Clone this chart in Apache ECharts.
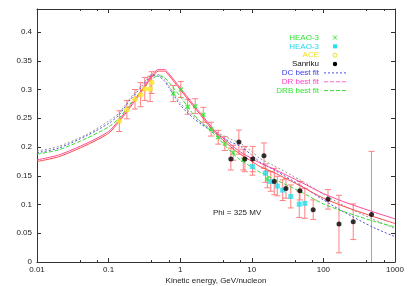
<!DOCTYPE html>
<html>
<head>
<meta charset="utf-8">
<script src="https://cdn.jsdelivr.net/npm/echarts@6/dist/echarts.min.js"></script>
<style>html,body{margin:0;padding:0;background:#fff}#c{width:409px;height:286px}</style>
</head>
<body>
<div id="c"></div>
<script>
// ---------- data ----------
const fitEnergy = [0.01,0.02,0.05,0.1,0.14,0.2,0.3,0.4,0.5,0.6,0.7,1,1.5,2,3,5,7,10,13,20,50,100,200,500,1000];
const fitGrey  = [0.193,0.201,0.222,0.245,0.259,0.285,0.310,0.326,0.326,0.318,0.306,0.277,0.255,0.242,0.228,0.214,0.206,0.192,0.180,0.168,0.141,0.118,0.097,0.074,0.058];
const fitDC    = [0.190,0.198,0.220,0.241,0.256,0.282,0.307,0.324,0.323,0.315,0.303,0.273,0.251,0.239,0.225,0.209,0.201,0.186,0.174,0.161,0.132,0.108,0.086,0.060,0.044];
const fitDRB   = [0.1876,0.195,0.2155,0.235,0.250,0.275,0.300,0.318,0.324,0.321,0.312,0.288,0.258,0.242,0.222,0.193,0.177,0.165,0.156,0.145,0.121,0.101,0.087,0.071,0.061];
const fitDR    = [0.1777,0.186,0.2068,0.227,0.247,0.272,0.302,0.325,0.335,0.335,0.327,0.303,0.275,0.256,0.229,0.205,0.191,0.180,0.172,0.162,0.138,0.119,0.104,0.087,0.075];
const fitRed   = [0.1748,0.183,0.2038,0.224,0.244,0.269,0.299,0.322,0.332,0.332,0.324,0.300,0.272,0.253,0.226,0.201,0.187,0.175,0.166,0.156,0.131,0.111,0.096,0.079,0.067];

const heaoAE   = [0.80,1.02,1.27,1.62,2.1,2.7,3.4,4.2,5.5,7.6,16.5];
const heaoAV   = [0.293,0.300,0.270,0.271,0.256,0.231,0.217,0.206,0.190,0.178,0.144];
const heaoAErr = [0.014,0.014,0.013,0.013,0.013,0.012,0.012,0.012,0.013,0.018,0.015];

const heaoBE   = [10.2,15.5,18.4,22.7,27,35,46,55];
const heaoBV   = [0.166,0.1545,0.140,0.132,0.125,0.114,0.1005,0.102];
const heaoBErr = [0.015,0.016,0.017,0.017,0.018,0.020,0.023,0.026];

const aceE     = [0.141,0.18,0.234,0.28,0.32,0.38,0.40];
const aceV     = [0.245,0.265,0.283,0.291,0.301,0.301,0.312];
const aceErr   = [0.018,0.016,0.017,0.021,0.020,0.022,0.019];

const sanE     = [5.1,6.6,8.0,10.3,14.8,20.6,30,47,72,116,165,261,470];
const sanV     = [0.179,0.2085,0.179,0.179,0.185,0.140,0.128,0.124,0.091,0.109,0.066,0.070,0.0824];
const sanErr   = [0.019,0.021,0.022,0.022,0.022,0.023,0.017,0.016,0.017,0.017,0.050,0.031,0.110];

const xTickLabels = ['0.01','0.1','1','10','100','1000'];
const yTickLabels = ['0','0.05','0.1','0.15','0.2','0.25','0.3','0.35','0.4'];

const legendNames  = ['HEAO-3','HEAO-3','ACE','Sanriku','DC best fit','DR best fit','DRB best fit'];
const legendColors = ['#2ee82e','#22d8f0','#f0e020','#111111','#3a3af0','#ff3fc8','#2ee82e'];

// ---------- helpers ----------
const zip = (a,b) => a.map((v,i)=>[v,b[i]]);
const zip3 = (a,b,c) => a.map((v,i)=>[v,b[i],c[i]]);
const FONT = 'Liberation Sans, Arial, sans-serif';
const ERR_COLOR = '#ff8080';

function errRender(params, api){
  const x = api.value(0), y = api.value(1), e = api.value(2);
  const lowV = y - e;
  const top = api.coord([x, y + e]);
  const bot = api.coord([x, Math.max(0, lowV)]);
  const cap = 3;
  const st = {stroke: ERR_COLOR, lineWidth: 1};
  const ch = [
    {type:'line', shape:{x1:top[0], y1:top[1], x2:bot[0], y2:bot[1]}, style:st},
    {type:'line', shape:{x1:top[0]-cap, y1:top[1], x2:top[0]+cap, y2:top[1]}, style:st}
  ];
  if (lowV > 0) ch.push({type:'line', shape:{x1:bot[0]-cap, y1:bot[1], x2:bot[0]+cap, y2:bot[1]}, style:st});
  return {type:'group', children: ch};
}
function errSeries(E,V,Er){
  return {type:'custom', renderItem: errRender, data: zip3(E,V,Er), z:1, silent:true,
          encode:{x:0,y:1}, clip:true};
}
function lineSeries(name, data, color, type, w){
  return {type:'line', name, data: zip(fitEnergy, data), symbol:'none', showSymbol:false,
          smooth:0.25, z:3,
          lineStyle:{color, width:w||1, type}, itemStyle:{color}};
}

// legend built from graphic elements (text right-aligned, sample to the right)
const LEG_TX = 319, LEG_MX = 335, LEG_Y0 = 37.5, LEG_DY = 8.85;
const legendGraphics = [];
function legY(i){ return LEG_Y0 + i*LEG_DY; }
legendNames.forEach((n,i)=>{
  legendGraphics.push({type:'text', x:LEG_TX, y:legY(i),
    style:{text:n, align:'right', verticalAlign:'middle', fontSize:8, fontFamily:FONT, fill:legendColors[i]}});
});
legendGraphics.push(
  {type:'line', shape:{x1:LEG_MX-2, y1:legY(0)-2, x2:LEG_MX+2, y2:legY(0)+2}, style:{stroke:'#2ee82e', lineWidth:1}},
  {type:'line', shape:{x1:LEG_MX-2, y1:legY(0)+2, x2:LEG_MX+2, y2:legY(0)-2}, style:{stroke:'#2ee82e', lineWidth:1}},
  {type:'rect', shape:{x:LEG_MX-2, y:legY(1)-2, width:4, height:4}, style:{fill:'#22e0f0'}},
  {type:'circle', shape:{cx:LEG_MX, cy:legY(2), r:2}, style:{fill:'none', stroke:'#f0e020', lineWidth:1}},
  {type:'circle', shape:{cx:LEG_MX, cy:legY(3), r:2.2}, style:{fill:'#000'}},
  {type:'line', shape:{x1:324, y1:legY(4), x2:346, y2:legY(4)}, style:{stroke:'#5050dd', lineWidth:1, lineDash:[2,2]}},
  {type:'line', shape:{x1:324, y1:legY(5), x2:346, y2:legY(5)}, style:{stroke:'#ff66cc', lineWidth:1, lineDash:[4,2]}},
  {type:'line', shape:{x1:324, y1:legY(6), x2:346, y2:legY(6)}, style:{stroke:'#33dd33', lineWidth:1, lineDash:[4,2]}}
);

const axisColor = '#333';
const option = {
  animation:false,
  backgroundColor:'#fff',
  textStyle:{fontFamily:FONT},
  grid:{left:37, top:9, width:358, height:253, containLabel:false, outerBoundsMode:'none'},
  xAxis:[
    {type:'log', logBase:10, min:0.01, max:1000, position:'bottom',
     axisLine:{show:true, onZero:false, lineStyle:{color:axisColor, width:1}},
     axisTick:{show:true, inside:true, length:4, lineStyle:{color:axisColor}},
     minorTick:{show:true, splitNumber:3, length:2, lineStyle:{color:axisColor}},
     splitLine:{show:false}, minorSplitLine:{show:false},
     axisLabel:{fontSize:8, color:'#222', margin:4, fontFamily:FONT,
       formatter:(v)=> xTickLabels[Math.round(Math.log10(v))+2] || ''},
     name:'Kinetic energy, GeV/nucleon', nameLocation:'middle', nameGap:15, nameMoveOverlap:false,
     nameTextStyle:{fontSize:8, color:'#222', fontFamily:FONT}},
    {type:'log', logBase:10, min:0.01, max:1000, position:'top',
     axisLine:{show:true, onZero:false, lineStyle:{color:axisColor, width:1}},
     axisTick:{show:true, inside:true, length:4, lineStyle:{color:axisColor}},
     minorTick:{show:true, splitNumber:3, length:2, lineStyle:{color:axisColor}},
     splitLine:{show:false}, axisLabel:{show:false}}
  ],
  yAxis:[
    {type:'value', min:0, max:0.44, interval:0.05, position:'left',
     axisLine:{show:true, onZero:false, lineStyle:{color:axisColor, width:1}},
     axisTick:{show:true, inside:true, length:4, lineStyle:{color:axisColor}},
     splitLine:{show:false},
     axisLabel:{fontSize:8, color:'#222', margin:5, showMaxLabel:false, fontFamily:FONT,
       formatter:(v)=>{ const i = Math.round(v/0.05); return (Math.abs(v - i*0.05) < 1e-6) ? (yTickLabels[i]||'') : ''; }}},
    {type:'value', min:0, max:0.44, interval:0.05, position:'right',
     axisLine:{show:true, onZero:false, lineStyle:{color:axisColor, width:1}},
     axisTick:{show:true, inside:true, length:4, lineStyle:{color:axisColor}},
     splitLine:{show:false}, axisLabel:{show:false}}
  ],
  graphic: legendGraphics.concat([
    {type:'text', left:213, top:209, style:{text:'Phi = 325 MV', fontSize:8, fill:'#222', fontFamily:FONT}}
  ]),
  series:[
    errSeries(aceE, aceV, aceErr),
    errSeries(heaoAE, heaoAV, heaoAErr),
    errSeries(heaoBE, heaoBV, heaoBErr),
    errSeries(sanE, sanV, sanErr),
    lineSeries('grey fit', fitGrey, '#9a9a9a', [2,2], 1),
    lineSeries('DC best fit', fitDC, '#5050dd', [2,2], 1),
    lineSeries('DRB best fit', fitDRB, '#33dd33', [4,2], 1),
    lineSeries('red fit', fitRed, '#ff4a4a', 'solid', 1),
    lineSeries('DR best fit', fitDR, '#ff4a9a', 'solid', 1),
    {type:'scatter', name:'HEAO-3 (a)', data: zip(heaoAE, heaoAV), z:5,
     symbol:'path://M2,0L5,3L8,0L10,2L7,5L10,8L8,10L5,7L2,10L0,8L3,5L0,2Z', symbolSize:5,
     itemStyle:{color:'#2ee82e'}},
    {type:'scatter', name:'HEAO-3 (b)', data: zip(heaoBE, heaoBV), z:5,
     symbol:'rect', symbolSize:5, itemStyle:{color:'#22e0f0'}},
    {type:'scatter', name:'ACE', data: zip(aceE, aceV), z:5,
     symbol:'circle', symbolSize:5, itemStyle:{color:'#ffee33', borderColor:'#eecc00', borderWidth:0.5}},
    {type:'scatter', name:'Sanriku', data: zip(sanE, sanV), z:5,
     symbol:'circle', symbolSize:5, itemStyle:{color:'#000'}}
  ]
};
const chart = echarts.init(document.getElementById('c'), null, {renderer:'canvas'});
chart.setOption(option);
</script>
</body>
</html>
